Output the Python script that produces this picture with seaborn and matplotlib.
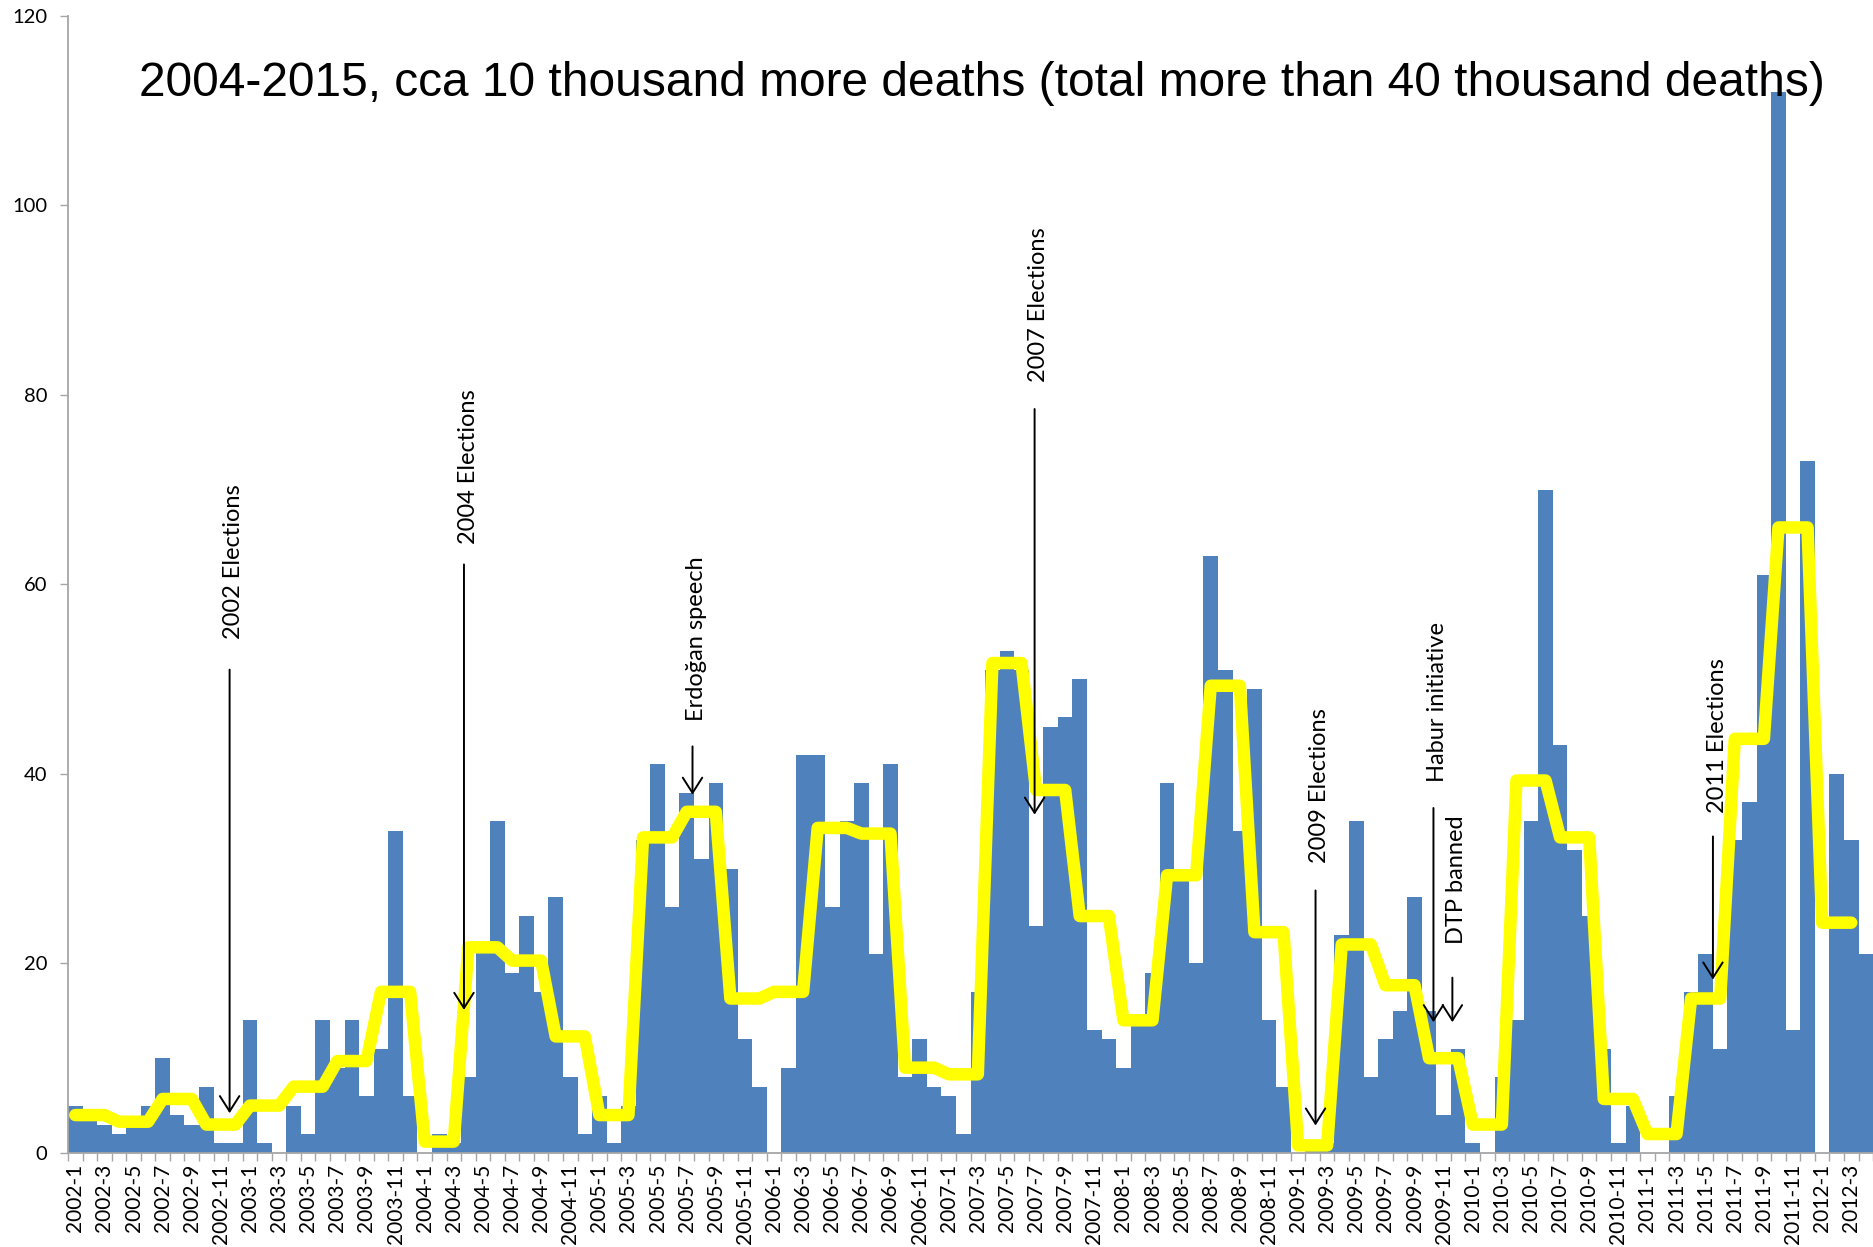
import numpy as np
import pandas as pd
import seaborn as sns
import matplotlib.pyplot as plt

# monthly deaths (2002-1 .. 2012-4)
deaths_2002 = [5, 4, 3, 2, 3, 5, 10, 4, 3, 7, 1, 1]
deaths_2003 = [14, 1, 0, 5, 2, 14, 9, 14, 6, 11, 34, 6]
deaths_2004 = [0, 2, 1, 8, 22, 35, 19, 25, 17, 27, 8, 2]
deaths_2005 = [6, 1, 5, 33, 41, 26, 38, 31, 39, 30, 12, 7]
deaths_2006 = [0, 9, 42, 42, 26, 35, 39, 21, 41, 8, 12, 7]
deaths_2007 = [6, 2, 17, 51, 53, 51, 24, 45, 46, 50, 13, 12]
deaths_2008 = [9, 14, 19, 39, 29, 20, 63, 51, 34, 49, 14, 7]
deaths_2009 = [0, 1, 1, 23, 35, 8, 12, 15, 27, 15, 4, 11]
deaths_2010 = [1, 0, 8, 14, 35, 70, 43, 32, 25, 11, 1, 5]
deaths_2011 = [0, 0, 6, 17, 21, 11, 33, 37, 61, 112, 13, 73]
deaths_2012 = [0, 40, 33, 21]

# yellow line: one level per quarter (2002 Q1 .. 2012 Q1)
quarter_level = [4, 3.3, 5.7, 3,
                 5, 7, 9.7, 17,
                 1.2, 21.7, 20.3, 12.3,
                 4, 33.3, 36, 16.3,
                 17, 34.3, 33.7, 9,
                 8.3, 51.7, 38.3, 25,
                 14, 29.3, 49.3, 23.3,
                 0.8, 22, 17.7, 10,
                 3, 39.3, 33.3, 5.7,
                 2, 16.3, 43.7, 66,
                 24.3]

years = list(range(2002, 2013))
month_labels = [f"{y}-{m}" for y in years for m in range(1, 13)][:124]

# events: label, arrow x, text bottom, arrow start, arrow tip
events = [
    ("2002 Elections", 10.6, 54.2, 51.0, 4.2),
    ("2004 Elections", 26.7, 64.3, 62.1, 15.1),
    ("Erdoğan speech", 42.4, 45.6, 42.9, 37.8),
    ("2007 Elections", 65.9, 81.3, 78.5, 35.7),
    ("2009 Elections", 85.2, 30.6, 27.7, 2.9),
    ("Habur initiative", 93.3, 39.1, 36.4, 13.8),
    ("DTP banned", 94.6, 22.1, 18.5, 13.8),
    ("2011 Elections", 112.5, 35.9, 33.4, 18.3),
]

deaths = (deaths_2002 + deaths_2003 + deaths_2004 + deaths_2005 + deaths_2006 +
          deaths_2007 + deaths_2008 + deaths_2009 + deaths_2010 + deaths_2011 +
          deaths_2012)
df = pd.DataFrame({"pos": np.arange(len(deaths)), "deaths": deaths})
line_df = pd.DataFrame({"pos": np.arange(len(quarter_level) * 3),
                        "level": np.repeat(quarter_level, 3)})

sns.set_style("white")
plt.rcParams["font.family"] = ["Lato", "DejaVu Sans"]

fig = plt.figure(figsize=(18.74, 12.47), dpi=100)
ax = fig.add_axes([0.0363, 0.0754, 0.9632, 0.912])

sns.barplot(data=df, x="pos", y="deaths", native_scale=True, width=1.0,
            color="#4F81BD", saturation=1, linewidth=0, errorbar=None, ax=ax)
sns.lineplot(data=line_df, x="pos", y="level", color="#FFFF00", linewidth=9,
             ax=ax, zorder=3, solid_joinstyle="round", solid_capstyle="round")

for label, x, text_y, y0, y1 in events:
    ax.annotate("", xy=(x, y1), xytext=(x, y0),
                arrowprops=dict(arrowstyle="->,head_length=0.55,head_width=0.35",
                                color="black", lw=1.4, mutation_scale=20,
                                shrinkA=0, shrinkB=0), zorder=5)
    ax.text(x + 0.3, text_y, label, rotation=90, ha="center", va="bottom",
            fontsize=17, color="black", zorder=5)

ax.set_xlim(-0.5, len(deaths) - 0.5)
ax.set_ylim(0, 120)
ax.set_yticks(range(0, 121, 20))
ax.set_xticks(range(0, len(month_labels), 2))
ax.set_xticklabels(month_labels[::2], rotation=90)
ax.set_xticks(np.arange(-0.5, len(deaths), 1), minor=True)
ax.tick_params(axis="x", which="major", length=0, labelsize=15, pad=8,
               labelcolor="black")
ax.tick_params(axis="x", which="minor", length=6, width=1, color="#A6A6A6",
               bottom=True)
ax.tick_params(axis="y", length=6, width=1, color="#A6A6A6", labelsize=14.5,
               left=True, pad=9, labelcolor="black")
ax.set_xlabel("")
ax.set_ylabel("")

for side in ["top", "right"]:
    ax.spines[side].set_visible(False)
for side in ["left", "bottom"]:
    ax.spines[side].set_color("#A6A6A6")
    ax.spines[side].set_linewidth(1.3)

fig.text(0.524, 0.933,
         "2004-2015, cca 10 thousand more deaths (total more than 40 thousand deaths)",
         ha="center", va="center", fontsize=34.5, color="black",
         family=["Liberation Sans"])

fig.savefig("out.png", dpi=100)
